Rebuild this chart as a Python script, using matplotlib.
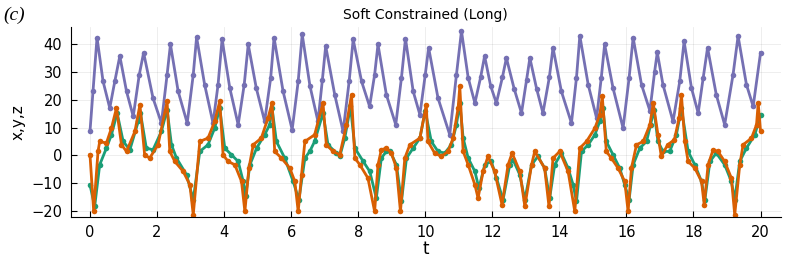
import matplotlib
matplotlib.use("Agg")
import matplotlib.pyplot as plt

# values (t, value)
z_pts = [(0.0, 8.6), (0.09, 23), (0.21, 42.3), (0.39, 26.6), (0.59, 17), (0.74, 26.6), (0.89, 35.7),
         (1.09, 23), (1.29, 14), (1.47, 29), (1.6, 36.9), (1.88, 20.6), (2.13, 11.6), (2.3, 29),
         (2.4, 39.9), (2.63, 23), (2.9, 11.6), (3.08, 29), (3.18, 42.5), (3.42, 25.4), (3.67, 11.6),
         (3.82, 25.4), (3.94, 41.7), (4.17, 24.2), (4.42, 11), (4.6, 25.4), (4.72, 39.9), (4.96, 24.2),
         (5.21, 12.2), (5.39, 27.9), (5.49, 42.3), (5.76, 23), (6.03, 9.2), (6.21, 26.6), (6.33, 43.5),
         (6.56, 25), (6.8, 12.2), (6.93, 27), (7.03, 39.3), (7.3, 21.8), (7.55, 8.6), (7.73, 26.6),
         (7.85, 41.7), (8.1, 26.6), (8.34, 17.6), (8.49, 29), (8.59, 39.9), (8.84, 21.8), (9.12, 11),
         (9.29, 27.9), (9.41, 42), (9.64, 23), (9.84, 14.6), (10.0, 29), (10.1, 38.7), (10.38, 20.6),
         (10.73, 7.4), (10.93, 29), (11.08, 44.7), (11.28, 27.9), (11.48, 18.8), (11.65, 28), (11.77, 35.7),
         (11.95, 25), (12.12, 18.8), (12.3, 28), (12.42, 35), (12.65, 24), (12.87, 15.2), (13.02, 27),
         (13.12, 35), (13.32, 24), (13.51, 15.2), (13.7, 28), (13.81, 38.7), (14.06, 23), (14.36, 11.6),
         (14.51, 27.9), (14.61, 43), (14.86, 25.4), (15.11, 13.4), (15.25, 27.9), (15.35, 39.9), (15.6, 24.2),
         (15.9, 9.8), (16.08, 27.9), (16.2, 42.3), (16.45, 25.4), (16.7, 16), (16.84, 30), (16.92, 37),
         (17.09, 25.4), (17.39, 12.2), (17.59, 26.6), (17.72, 41), (17.94, 24.2), (18.14, 15.2), (18.29, 27.9),
         (18.42, 38.7), (18.68, 21.8), (18.93, 11), (19.18, 29), (19.33, 42.9), (19.58, 25.4), (19.78, 17.6),
         (20.0, 36.9)]

x_pts = [(0.0, -10.6), (0.14, -18.4), (0.29, -3.4), (0.49, 2.6), (0.64, 7.4), (0.81, 15.2), (0.99, 5),
         (1.19, 2), (1.44, 12.2), (1.505, 15.2), (1.68, 2.6), (1.88, 2), (2.13, 8.6), (2.3, 16.4),
         (2.43, 3.8), (2.58, -1), (2.88, -7), (3.08, -16), (3.275, 1.4), (3.52, 3.8), (3.72, 9.8),
         (3.87, 17), (4.02, 2.6), (4.22, 0.2), (4.42, -2.2), (4.57, -9.4), (4.64, -14.8), (4.77, -3.4),
         (4.97, 2.6), (5.21, 7.4), (5.36, 11), (5.43, 17), (5.56, 5), (5.81, -1), (6.06, -9.4),
         (6.23, -16), (6.41, -1), (6.555, 1.4), (6.7, 5), (6.95, 15.2), (7.1, 3.8), (7.35, 0.8),
         (7.45, -0.4), (7.6, 6.2), (7.77, 17.6), (7.9, 2.6), (8.15, -2.2), (8.345, -5.8), (8.54, -15.4),
         (8.69, -1), (8.84, 1.4), (8.94, 1.7), (9.14, -3.4), (9.29, -16.6), (9.44, -1), (9.64, 2.6),
         (9.84, 6.2), (10.0, 16), (10.18, 5), (10.38, 1.4), (10.58, 0.8), (10.78, 3.8), (10.93, 11),
         (11.03, 18.8), (11.13, 6.2), (11.28, -1), (11.48, -5.8), (11.6, -11.8), (11.775, -3.4),
         (11.97, -2.2), (12.12, -8), (12.32, -16), (12.52, -3.4), (12.62, -1.6), (12.82, -7), (12.97, -16),
         (13.17, -3.4), (13.36, -0.4), (13.56, -4.6), (13.71, -15.4), (13.86, -3.4), (14.06, 0.8),
         (14.26, -4.6), (14.41, -10.6), (14.51, -16.6), (14.66, 1.4), (14.86, 3.8), (15.06, 7.4),
         (15.205, 12.2), (15.3, 17), (15.4, 5), (15.6, 0.2), (15.8, -4.6), (15.95, -10.6), (16.08, -16),
         (16.2, -3.4), (16.4, 2.6), (16.6, 5), (16.72, 11), (16.82, 16.4), (16.94, 5), (17.09, 1.4),
         (17.29, 1.4), (17.49, 7.4), (17.64, 17), (17.84, 1.4), (18.04, -3.4), (18.24, -9.4), (18.34, -16),
         (18.49, -2.2), (18.68, 0.8), (18.93, -3.4), (19.13, -9.4), (19.23, -16), (19.38, -2.2),
         (19.58, 2.6), (19.83, 7.4), (20.0, 14.6)]

y_pts = [(0.0, 0.2), (0.11, -20), (0.24, 1.4), (0.29, 5), (0.49, 4.4), (0.64, 9.8), (0.79, 17),
         (0.94, 3.8), (1.09, 1.4), (1.34, 8.6), (1.49, 18.2), (1.63, 0.2), (1.78, -1), (2.03, 3.8),
         (2.3, 19.4), (2.38, 1.4), (2.53, -2.2), (2.78, -5.8), (2.98, -10.6), (3.08, -21.4), (3.275, 5),
         (3.52, 6.2), (3.72, 12.2), (3.87, 19.4), (3.97, 0.2), (4.12, -2.2), (4.32, -3.4), (4.52, -9.4),
         (4.62, -20.2), (4.74, -4.6), (4.87, 3.8), (5.11, 6.2), (5.31, 13.4), (5.43, 18.8), (5.51, 1.4),
         (5.71, -1), (5.96, -4.6), (6.11, -9.4), (6.21, -20.2), (6.31, -7), (6.41, 5), (6.7, 7.4),
         (6.95, 18.8), (7.05, 3.8), (7.25, 1.4), (7.45, 0.2), (7.65, 11), (7.8, 21.8), (7.9, -1),
         (8.05, -3.4), (8.29, -8.2), (8.49, -20.2), (8.59, -3.4), (8.69, 2), (8.84, 2.6), (8.99, 0.8),
         (9.14, -4.6), (9.26, -20.2), (9.39, -1), (9.54, 3.8), (9.84, 6.2), (10.03, 18.2), (10.08, 5),
         (10.28, 0.8), (10.48, -0.4), (10.68, 1.4), (10.83, 6.2), (10.98, 17), (11.03, 24.8), (11.13, 1.4),
         (11.28, -3.4), (11.48, -10.6), (11.575, -15.4), (11.725, -5.8), (11.87, -0.4), (12.07, -5.8),
         (12.29, -17.8), (12.47, -3.4), (12.59, 0.8), (12.82, -5.8), (12.97, -18.4), (13.17, -3.4),
         (13.265, 1.4), (13.56, -4.6), (13.69, -18.4), (13.81, -1), (14.01, 1.4), (14.26, -5.8),
         (14.46, -20.2), (14.61, 2.6), (14.81, 5), (15.06, 9.8), (15.205, 14.6), (15.28, 21.2), (15.4, 1.4),
         (15.55, -1), (15.75, -4.6), (15.95, -9.4), (16.05, -20.2), (16.15, -4.6), (16.3, 3.8), (16.5, 5),
         (16.7, 11), (16.8, 18.8), (16.94, 7.4), (17.04, -0.4), (17.23, 3.8), (17.43, 5.6), (17.57, 13.4),
         (17.64, 21.8), (17.74, 5), (17.84, -2.2), (18.04, -4.6), (18.24, -9.4), (18.32, -17.8),
         (18.435, -3.4), (18.585, 2), (18.73, 1.4), (18.93, -2.2), (19.13, -8.2), (19.23, -21.4),
         (19.38, -3.4), (19.48, 3.8), (19.73, 6.2), (19.88, 11), (19.93, 18.8), (20.0, 8.6)]

x_ticks = [0, 2, 4, 6, 8, 10, 12, 14, 16, 18, 20]
y_ticks = [-20, -10, 0, 10, 20, 30, 40]

purple = "#7570b3"
green = "#1b9e77"
orange = "#d95f02"

fig = plt.figure(figsize=(7.97, 2.66), dpi=100)
ax = fig.add_axes([0.0885, 0.184, 0.891, 0.714])

for pts, col in [(z_pts, purple), (x_pts, green), (y_pts, orange)]:
    t, v = zip(*pts)
    ax.plot(t, v, color=col, lw=2.0, marker="o", ms=4.0, mew=0, solid_joinstyle="round")

ax.set_xlim(-0.58, 20.6)
ax.set_ylim(-22.2, 46.1)
ax.set_xticks(x_ticks)
ax.set_yticks(y_ticks)
ax.grid(True, color="black", alpha=0.08, lw=0.6)
ax.tick_params(direction="in", length=4, width=0.8, labelsize=10.5, pad=6)
for s in ["top", "right"]:
    ax.spines[s].set_visible(False)

ax.set_title("Soft Constrained (Long)", fontsize=10, pad=6)
ax.set_xlabel("t", fontsize=12, labelpad=0)
ax.set_ylabel("x,y,z", fontsize=11, labelpad=4)
fig.text(0.004, 0.975, "(c)", fontsize=14, style="italic", family="Liberation Serif", va="top")

fig.savefig("out.png", dpi=100)
